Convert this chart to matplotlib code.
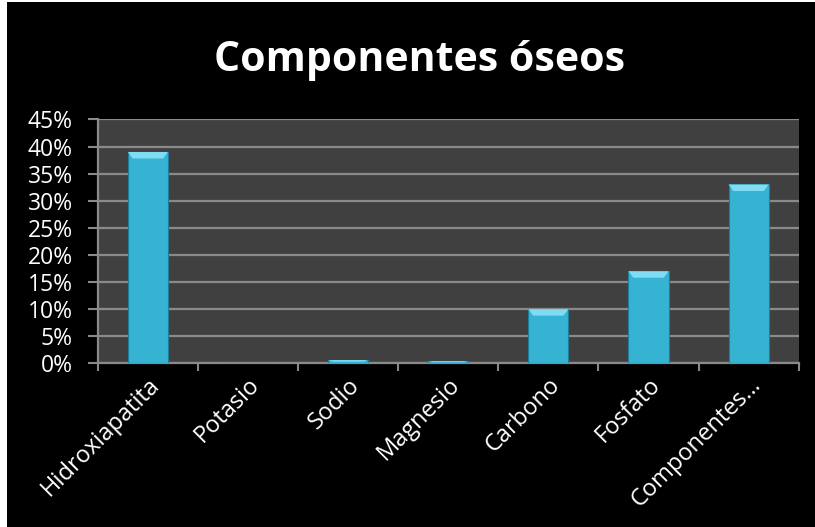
import numpy as np
import matplotlib.pyplot as plt
from matplotlib.patches import Polygon

categories = ["Hidroxiapatita", "Potasio", "Sodio", "Magnesio", "Carbono", "Fosfato", "Componentes…"]
values = [0.39, 0.0, 0.006, 0.004, 0.10, 0.17, 0.33]
yticks = [0.0, 0.05, 0.10, 0.15, 0.20, 0.25, 0.30, 0.35, 0.40, 0.45]
ytick_labels = ["0%", "5%", "10%", "15%", "20%", "25%", "30%", "35%", "40%", "45%"]
title = "Componentes óseos"

plt.rcParams["font.family"] = ["Open Sans", "DejaVu Sans"]

fig = plt.figure(figsize=(8.15, 5.27), dpi=100, facecolor="white")
# black chart area (thin white margin on the left/top like the original)
fig.patches.append(plt.Rectangle((0.008, 0.0), 0.992, 0.996, transform=fig.transFigure,
                                 facecolor="black", edgecolor="none", zorder=-1))

ax = fig.add_axes([0.120, 0.3106, 0.860, 0.4627])
ax.set_facecolor("#404040")

x = np.arange(len(categories))
bar_w = 0.4
bars = ax.bar(x, values, width=bar_w, color="#36b2d3", edgecolor="#1d7f9c", linewidth=0.8, zorder=3)

# bevel highlight on top of each bar
cap = 0.012
for xi, v in zip(x, values):
    if v <= 0.002:
        continue
    c = min(cap, v * 0.5)
    dx = bar_w * 0.12
    poly = Polygon([(xi - bar_w / 2, v), (xi + bar_w / 2, v),
                    (xi + bar_w / 2 - dx, v - c), (xi - bar_w / 2 + dx, v - c)],
                   closed=True, facecolor="#7fdcf2", edgecolor="none", zorder=4)
    ax.add_patch(poly)

ax.set_xlim(-0.5, len(categories) - 0.5)
ax.set_ylim(0, 0.45)
ax.set_yticks(yticks)
ax.set_yticklabels(ytick_labels)
ax.yaxis.grid(True, color="#8a8a8a", linewidth=1.6, zorder=1)
ax.set_axisbelow(True)

ax.set_xticks(x)
ax.set_xticklabels(categories, rotation=45, ha="right", rotation_mode="anchor")
ax.set_xticks(np.arange(-0.5, len(categories)), minor=True)
ax.tick_params(axis="x", which="major", length=0, pad=7, labelsize=17, colors="white")
ax.tick_params(axis="x", which="minor", length=6, width=1.5, color="#8a8a8a")
ax.tick_params(axis="y", length=7, width=1.5, color="#8a8a8a", labelsize=16.5, labelcolor="white", pad=11)

for side in ["top", "right"]:
    ax.spines[side].set_visible(False)
for side in ["left", "bottom"]:
    ax.spines[side].set_color("#8a8a8a")
    ax.spines[side].set_linewidth(1.6)

fig.text(0.515, 0.885, title, ha="center", va="center", color="white",
         fontsize=29.5, fontweight="bold")

fig.savefig("out.png", dpi=100, facecolor=fig.get_facecolor())
